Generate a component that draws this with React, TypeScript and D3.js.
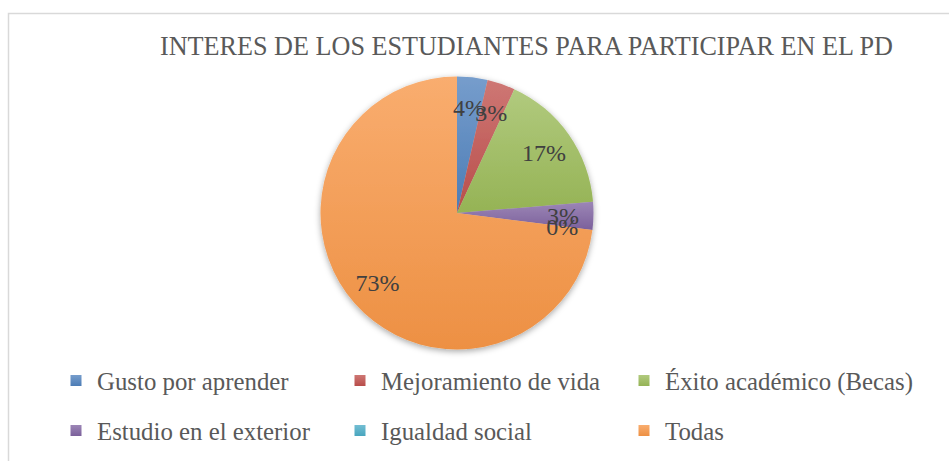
import React from "react";
import * as d3 from "d3";

const title = "INTERES DE LOS ESTUDIANTES PARA PARTICIPAR EN EL PD";
const categories = [
  "Gusto por aprender",
  "Mejoramiento de vida",
  "Éxito académico (Becas)",
  "Estudio en el exterior",
  "Igualdad social",
  "Todas",
];
const values = [3.6, 3.3, 16.8, 3.3, 0, 73.0];
const colors = ["#4F81BD", "#C0504D", "#9BBB59", "#8064A2", "#4BACC6", "#F79646"];

const W = 949;
const H = 461;
const cx = 457;
const cy = 213;
const R = 136.5;
const labelR = 106;
const font = "'Liberation Serif', 'Times New Roman', serif";

export default function App() {
  const pie = d3
    .pie<number>()
    .sort(null)
    .value((d) => d)
    .startAngle(0)
    .endAngle(2 * Math.PI);
  const arcs = pie(values);
  const arc = d3.arc<d3.PieArcDatum<number>>().innerRadius(0).outerRadius(R);
  const labelArc = d3
    .arc<d3.PieArcDatum<number>>()
    .innerRadius(labelR)
    .outerRadius(labelR);
  const total = d3.sum(values);

  const colX = d3.scaleOrdinal<number, number>().domain([0, 1, 2]).range([70.5, 354.5, 638.5]);
  const rowY = d3.scaleOrdinal<number, number>().domain([0, 1]).range([390, 440]);

  return (
    <svg
      width={W}
      height={H}
      style={{ position: "absolute", left: 0, top: 0, background: "#fff" }}
    >
      <defs>
        <filter id="shadow" x="-20%" y="-20%" width="140%" height="140%">
          <feDropShadow dx="0" dy="2" stdDeviation="3" floodColor="#000" floodOpacity="0.35" />
        </filter>
        {colors.map((c, i) => (
          <linearGradient key={i} id={`g${i}`} x1="0" y1="0" x2="0" y2="1">
            <stop offset="0%" stopColor={d3.interpolateRgb(c, "#ffffff")(0.22)} />
            <stop offset="100%" stopColor={d3.rgb(c).darker(0.12).formatHex()} />
          </linearGradient>
        ))}
      </defs>
      <rect x={0} y={0} width={W} height={H} fill="#fff" />
      <path d={`M8.5,${H} V13.5 H${W}`} fill="none" stroke="#d9d9d9" strokeWidth={1.5} />
      <text
        x={160}
        y={54.5}
        fontFamily={font}
        fontSize={27}
        fill="#595959"
        textLength={733}
        lengthAdjust="spacingAndGlyphs"
      >
        {title}
      </text>
      <g transform={`translate(${cx},${cy})`}>
        <g filter="url(#shadow)">
          {arcs.map((a, i) =>
            a.endAngle > a.startAngle ? (
              <path key={i} d={arc(a) || ""} fill={`url(#g${i})`} />
            ) : null
          )}
        </g>
        {arcs.map((a, i) => {
          const [x, y] = labelArc.centroid(a);
          return (
            <text
              key={i}
              x={x}
              y={y}
              dy="0.35em"
              textAnchor="middle"
              fontFamily={font}
              fontSize={24}
              fill="#404040"
            >
              {`${Math.round((values[i] / total) * 100)}%`}
            </text>
          );
        })}
      </g>
      {categories.map((c, i) => {
        const x = colX(i % 3);
        const y = rowY(Math.floor(i / 3));
        return (
          <g key={c}>
            <rect x={x} y={y - 15} width={11} height={11} fill={`url(#g${i})`} />
            <text
              transform={`translate(${x + 26.5},${y}) scale(0.955,1)`}
              fontFamily={font}
              fontSize={26}
              fill="#595959"
            >
              {c}
            </text>
          </g>
        );
      })}
    </svg>
  );
}
